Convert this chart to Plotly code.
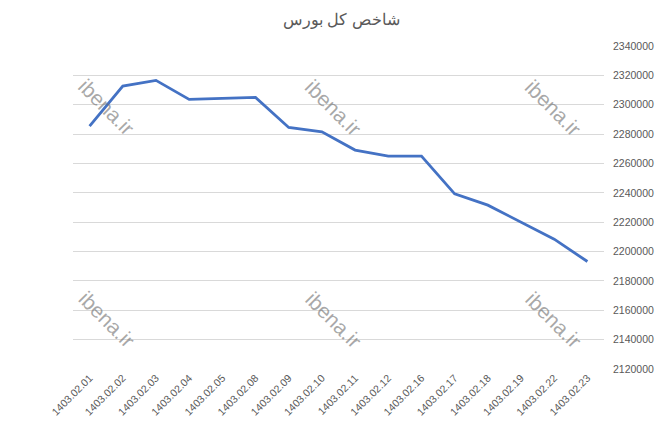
import plotly.graph_objects as go

# dates (solar calendar) and index values
dates = ["1403.02.01", "1403.02.02", "1403.02.03", "1403.02.04", "1403.02.05",
         "1403.02.08", "1403.02.09", "1403.02.10", "1403.02.11", "1403.02.12",
         "1403.02.16", "1403.02.17", "1403.02.18", "1403.02.19", "1403.02.22",
         "1403.02.23"]
index_values = [2285400, 2312700, 2316600, 2303600, 2304300,
                2305000, 2284500, 2281500, 2269100, 2265000,
                2265000, 2239300, 2231600, 2219800, 2208400,
                2193200]

y_ticks = list(range(2120000, 2340001, 20000))

# watermark spots, in paper coords
wm_x = [0.064, 0.49, 0.904, 0.064, 0.49, 0.904]
wm_y = [0.81, 0.81, 0.81, 0.152, 0.152, 0.152]

fig = go.Figure()
fig.add_trace(go.Scatter(
    x=dates,
    y=index_values,
    mode="lines",
    line=dict(color="#4472C4", width=2.8),
    name="شاخص کل بورس",
))

for wx, wy in zip(wm_x, wm_y):
    fig.add_annotation(
        x=wx, y=wy, xref="paper", yref="paper",
        xanchor="center", yanchor="middle",
        text="ibena.ir", showarrow=False, textangle=45,
        font=dict(family="Liberation Sans", size=21, color="rgba(110,110,110,0.6)"),
    )

# page body adds ~8px offset, so margins are shifted to compensate
fig.update_layout(
    width=667,
    height=438,
    margin=dict(l=65, r=71, t=38, b=77),
    paper_bgcolor="white",
    plot_bgcolor="white",
    showlegend=False,
    title=dict(
        text="شاخص کل بورس",
        x=0.5, xanchor="center", y=0.973, yanchor="middle",
        font=dict(family="Noto Sans", size=16, color="#595959"),
    ),
    font=dict(family="Liberation Sans", color="#595959"),
    xaxis=dict(
        type="category",
        range=[-0.5, len(dates) - 0.5],
        tickangle=-45,
        tickfont=dict(size=10.5, color="#595959"),
        showgrid=False,
        showline=False,
        ticks="",
        automargin=False,
    ),
    yaxis=dict(
        side="right",
        range=[2120000, 2340000],
        tickvals=y_ticks,
        ticktext=[str(v) for v in y_ticks],
        tickfont=dict(size=10.5, color="#595959"),
        gridcolor="#d9d9d9",
        gridwidth=1,
        zeroline=False,
        showline=False,
        ticks="",
        ticklabelstandoff=8,
        automargin=False,
    ),
)

fig.write_html("out.html")
